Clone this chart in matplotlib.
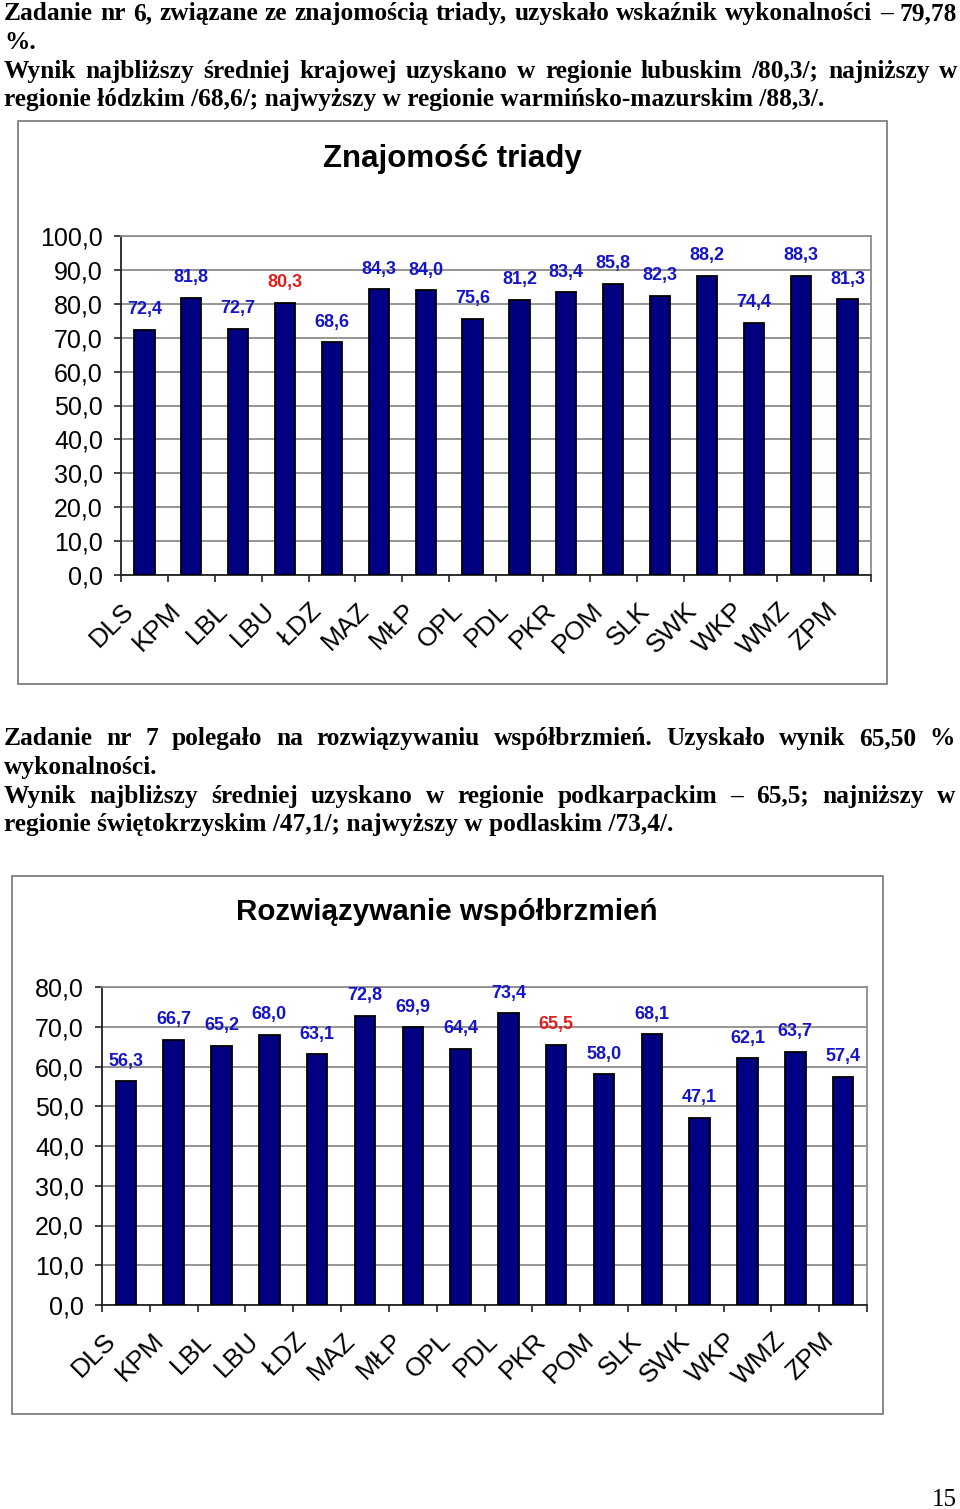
import matplotlib
matplotlib.use("Agg")
import matplotlib.pyplot as plt
from matplotlib.patches import Rectangle
from matplotlib.ticker import FuncFormatter, MultipleLocator
import matplotlib.transforms as mtransforms

W, H = 960, 1509

categories = ["DLS", "KPM", "LBL", "LBU", "ŁDZ", "MAZ", "MŁP", "OPL",
              "PDL", "PKR", "POM", "SLK", "SWK", "WKP", "WMZ", "ZPM"]

triady_values = [72.4, 81.8, 72.7, 80.3, 68.6, 84.3, 84.0, 75.6,
                 81.2, 83.4, 85.8, 82.3, 88.2, 74.4, 88.3, 81.3]
triady_highlight = "LBU"
triady_title = "Znajomość triady"

wspol_values = [56.3, 66.7, 65.2, 68.0, 63.1, 72.8, 69.9, 64.4,
                73.4, 65.5, 58.0, 68.1, 47.1, 62.1, 63.7, 57.4]
wspol_highlight = "PKR"
wspol_title = "Rozwiązywanie współbrzmień"

para1 = [
    ("Zadanie nr 6, związane ze znajomością triady, uzyskało wskaźnik wykonalności – 79,78", True),
    ("%.", False),
    ("Wynik najbliższy średniej krajowej uzyskano w regionie lubuskim /80,3/; najniższy w", True),
    ("regionie łódzkim /68,6/; najwyższy w regionie warmińsko-mazurskim /88,3/.", False),
]
para2 = [
    ("Zadanie nr 7 polegało na rozwiązywaniu współbrzmień. Uzyskało wynik 65,50 %", True),
    ("wykonalności.", False),
    ("Wynik najbliższy średniej uzyskano w regionie podkarpackim – 65,5; najniższy w", True),
    ("regionie świętokrzyskim /47,1/; najwyższy w podlaskim /73,4/.", False),
]
page_number = "15"

BAR = "#000080"
BLUE = "#1515c8"
RED = "#e01e1e"
GRID = "#8c8c8c"
SANS = "Liberation Sans"
SERIF = "Liberation Serif"

fig = plt.figure(figsize=(W / 100, H / 100), dpi=100)
renderer = fig.canvas.get_renderer()


def fx(x):
    return x / W


def fy(y):
    return 1 - y / H


def put_line(text, y_base, justify, x0=4, x1=957, size=18.3):
    kw = dict(fontsize=size, fontweight="bold", family=SERIF, va="baseline", ha="left")
    if not justify:
        fig.text(fx(x0), fy(y_base), text, **kw)
        return
    words = text.split(" ")
    objs = [fig.text(0, 0, w, **kw) for w in words]
    widths = [o.get_window_extent(renderer).width for o in objs]
    gap = (x1 - x0 - sum(widths)) / (len(words) - 1)
    x = x0
    for o, w in zip(objs, widths):
        o.set_position((fx(x), fy(y_base)))
        x += w + gap


for i, (t, j) in enumerate(para1):
    put_line(t, 20 + i * 28.8, j)
for i, (t, j) in enumerate(para2):
    put_line(t, 745 + i * 28.8, j, x1=955)

fig.text(fx(957), fy(1506), page_number, fontsize=18, family=SERIF, ha="right", va="baseline")


def frame(x0, y0, x1, y1):
    fig.patches.append(Rectangle((fx(x0), fy(y1)), fx(x1 - x0), (y1 - y0) / H,
                                 transform=fig.transFigure, fill=False,
                                 edgecolor="#7f7f7f", linewidth=1.3))


def chart(values, highlight, title, box, plot, ymax, title_xy, title_size):
    frame(*box)
    fig.text(fx(title_xy[0]), fy(title_xy[1]), title, fontsize=title_size, fontweight="bold",
             family=SANS, ha="center", va="center")
    l, t, r, b = plot
    ax = fig.add_axes([fx(l), fy(b), fx(r - l), (b - t) / H])
    xs = list(range(len(categories)))
    ax.bar(xs, values, width=0.43, color=BAR, edgecolor="black", linewidth=1.3, zorder=3)
    for x, v, c in zip(xs, values, categories):
        ax.annotate(f"{v:.1f}".replace(".", ","), (x, v), xytext=(0, 14.5),
                    textcoords="offset points", ha="center", va="center",
                    fontsize=13, fontweight="bold", family=SANS,
                    color=RED if c == highlight else BLUE, zorder=4)
    ax.set_xlim(-0.5, len(categories) - 0.5)
    ax.set_ylim(0, ymax)
    ax.yaxis.set_major_locator(MultipleLocator(10))
    ax.yaxis.set_major_formatter(FuncFormatter(lambda v, p: f"{v:.1f}".replace(".", ",")))
    ax.grid(axis="y", color=GRID, linewidth=1.3, zorder=0)
    ax.set_axisbelow(True)
    for s in ("top", "right"):
        ax.spines[s].set_color(GRID)
        ax.spines[s].set_linewidth(1.3)
    for s in ("left", "bottom"):
        ax.spines[s].set_color("#222222")
        ax.spines[s].set_linewidth(1.3)
    ax.set_xticks(xs)
    ax.set_xticks([x - 0.5 for x in xs] + [len(xs) - 0.5], minor=True)
    ax.tick_params(axis="x", which="major", length=0, pad=23)
    ax.tick_params(axis="x", which="minor", length=5, width=1.2, color="#222222")
    ax.tick_params(axis="y", length=5, width=1.2, color="#222222", pad=8, labelsize=18)
    ax.set_xticklabels(categories, rotation=45, ha="right", va="center",
                       rotation_mode="anchor", fontsize=19, family=SANS)
    off = mtransforms.ScaledTranslation(-10 / 72, 0, fig.dpi_scale_trans)
    for lab in ax.get_xticklabels():
        lab.set_transform(lab.get_transform() + off)
    for lab in ax.get_yticklabels():
        lab.set_family(SANS)
    return ax


chart(triady_values, triady_highlight, triady_title,
      (18, 121, 887, 684), (121, 236, 871, 575), 100, (452, 159), 22.5)
chart(wspol_values, wspol_highlight, wspol_title,
      (12, 876, 883, 1414), (102, 987, 867, 1305), 80, (447, 912), 21.3)

fig.savefig("out.png", dpi=100)
